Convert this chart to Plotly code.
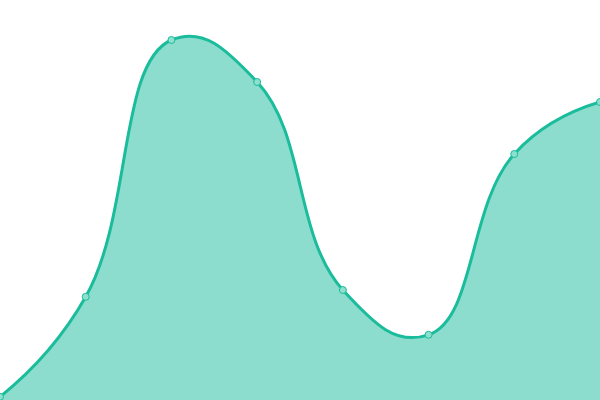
import plotly.graph_objects as go

x_vals = [0, 1, 2, 3, 4, 5, 6, 7]
y_vals = [0.8, 25.8, 90.0, 79.5, 27.5, 16.3, 61.5, 74.5]

fig = go.Figure()
fig.add_trace(go.Scatter(
    x=x_vals, y=y_vals,
    mode="lines+markers",
    line=dict(shape="spline", smoothing=1.3, color="#1abc9c", width=3),
    fill="tozeroy",
    fillcolor="rgba(26,188,156,0.5)",
    marker=dict(size=7, color="#8ce0cd", line=dict(color="#1abc9c", width=1)),
    hoverinfo="skip",
    cliponaxis=False,
))
fig.update_layout(
    autosize=True,
    margin=dict(l=0, r=0, t=0, b=0),
    paper_bgcolor="white", plot_bgcolor="white",
    showlegend=False,
    xaxis=dict(range=[0, 7], visible=False, fixedrange=True),
    yaxis=dict(range=[0, 100], visible=False, fixedrange=True),
)
html = fig.to_html(full_html=True, include_plotlyjs=True, config={"displayModeBar": False, "responsive": True},
                   default_width="100vw", default_height="100vh")
html = html.replace("<head>", "<head><style>html,body{margin:0;padding:0;overflow:hidden;}</style>", 1)
with open("out.html", "w", encoding="utf-8") as f:
    f.write(html)
